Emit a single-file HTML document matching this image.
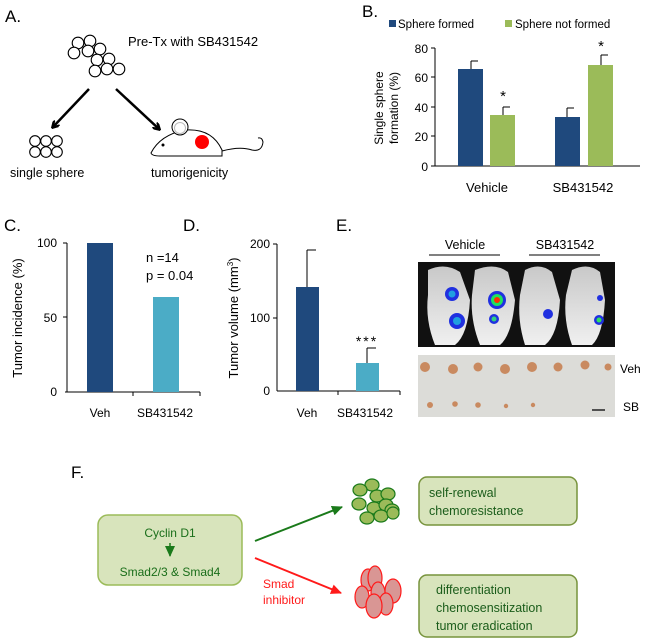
<!DOCTYPE html>
<html><head><meta charset="utf-8"><style>
html,body{margin:0;padding:0;background:#fff}
svg{display:block}
text{font-family:"Liberation Sans",sans-serif}
</style></head><body>
<svg width="650" height="644" viewBox="0 0 650 644" xmlns="http://www.w3.org/2000/svg">
<defs>
<marker id="ak" markerWidth="8" markerHeight="8" refX="6" refY="4" orient="auto" markerUnits="userSpaceOnUse"><path d="M0,0 L7,4 L0,8" fill="none" stroke="#000" stroke-width="2.5"/></marker>
<marker id="ag" markerWidth="12" markerHeight="10" refX="10" refY="5" orient="auto" markerUnits="userSpaceOnUse"><path d="M0,0 L11,5 L0,10 Z" fill="#1a7a1a"/></marker>
<marker id="ar" markerWidth="12" markerHeight="10" refX="10" refY="5" orient="auto" markerUnits="userSpaceOnUse"><path d="M0,0 L11,5 L0,10 Z" fill="#ff1a1a"/></marker>
<linearGradient id="mz" x1="0" x2="0" y1="0" y2="1"><stop offset="0" stop-color="#c8c8c8"/><stop offset="1" stop-color="#f0f0f0"/></linearGradient>
</defs>

<!-- A -->
<text x="5" y="22" font-size="17">A.</text>
<g fill="#fff" stroke="#000" stroke-width="1.1">
<circle cx="78" cy="43" r="5.8"/><circle cx="90" cy="41" r="5.8"/><circle cx="74" cy="53" r="5.8"/><circle cx="88" cy="51" r="5.8"/><circle cx="100" cy="49" r="5.8"/><circle cx="97" cy="60" r="5.8"/><circle cx="109" cy="59" r="5.8"/><circle cx="95" cy="71" r="5.8"/><circle cx="107" cy="69" r="5.8"/><circle cx="119" cy="69" r="5.8"/>
<circle cx="35" cy="141" r="5.3"/><circle cx="46" cy="141" r="5.3"/><circle cx="57" cy="141" r="5.3"/><circle cx="35" cy="152" r="5.3"/><circle cx="46" cy="152" r="5.3"/><circle cx="57" cy="152" r="5.3"/>
</g>
<text x="128" y="46" font-size="13">Pre-Tx with  SB431542</text>
<line x1="89" y1="89" x2="53" y2="127" stroke="#000" stroke-width="2.5" marker-end="url(#ak)"/>
<line x1="116" y1="89" x2="159" y2="129" stroke="#000" stroke-width="2.5" marker-end="url(#ak)"/>
<g fill="none" stroke="#000" stroke-width="1">
<path d="M151,153 Q160,135 185,130 Q212,128 222,150 L222,156 L160,156 Q152,156 151,153 Z" fill="#fff"/>
<circle cx="180" cy="127" r="8" fill="#fff"/><circle cx="180" cy="128" r="5.5" stroke="#bbb"/>
<path d="M222,151 Q240,146 252,150 Q262,152 263,142 Q262,137 258,138"/>
</g>
<circle cx="163" cy="145" r="1.5" fill="#000"/>
<circle cx="202" cy="142" r="7" fill="#f00"/>
<text x="10" y="177" font-size="12.5">single sphere</text>
<text x="151" y="177" font-size="12.5">tumorigenicity</text>

<!-- B -->
<text x="362" y="17" font-size="17">B.</text>
<rect x="389" y="20" width="7" height="7" fill="#1f497d"/><text x="398" y="28" font-size="11.5">Sphere formed</text>
<rect x="505" y="20" width="7" height="7" fill="#9bbb59"/><text x="515" y="28" font-size="11.5">Sphere not formed</text>
<g font-size="12" text-anchor="end">
<text x="428" y="53">80</text><text x="428" y="82">60</text><text x="428" y="112">40</text><text x="428" y="141">20</text><text x="428" y="171">0</text>
</g>
<g stroke="#000" stroke-width="1">
<line x1="435" y1="48" x2="435" y2="166"/><line x1="435" y1="166" x2="640" y2="166"/>
<line x1="431" y1="48" x2="435" y2="48"/><line x1="431" y1="77" x2="435" y2="77"/><line x1="431" y1="107" x2="435" y2="107"/><line x1="431" y1="136" x2="435" y2="136"/><line x1="431" y1="166" x2="435" y2="166"/>
<line x1="471" y1="69" x2="471" y2="61"/><line x1="471" y1="61" x2="478" y2="61"/>
<line x1="503" y1="115" x2="503" y2="107"/><line x1="503" y1="107" x2="510" y2="107"/>
<line x1="567" y1="117" x2="567" y2="108"/><line x1="567" y1="108" x2="574" y2="108"/>
<line x1="601" y1="65" x2="601" y2="55"/><line x1="601" y1="55" x2="608" y2="55"/>
</g>
<rect x="458" y="69" width="25" height="97" fill="#1f497d"/>
<rect x="490" y="115" width="25" height="51" fill="#9bbb59"/>
<rect x="555" y="117" width="25" height="49" fill="#1f497d"/>
<rect x="588" y="65" width="25" height="101" fill="#9bbb59"/>
<text x="503" y="101" font-size="15" text-anchor="middle">*</text>
<text x="601" y="51" font-size="15" text-anchor="middle">*</text>
<text x="487" y="192" font-size="13" text-anchor="middle">Vehicle</text>
<text x="583" y="192" font-size="13" text-anchor="middle">SB431542</text>
<text transform="translate(383,108) rotate(-90)" font-size="12" text-anchor="middle">Single sphere</text>
<text transform="translate(398,108) rotate(-90)" font-size="12" text-anchor="middle">formation (%)</text>

<!-- C -->
<text x="4" y="231" font-size="17">C.</text>
<g font-size="12" text-anchor="end"><text x="57" y="247">100</text><text x="57" y="322">50</text><text x="57" y="396">0</text></g>
<g stroke="#000" stroke-width="1">
<line x1="67" y1="243" x2="67" y2="392"/><line x1="65" y1="392" x2="200" y2="392"/>
<line x1="63" y1="243" x2="67" y2="243"/><line x1="63" y1="317" x2="67" y2="317"/>
<line x1="133" y1="392" x2="133" y2="396"/><line x1="200" y1="392" x2="200" y2="396"/>
</g>
<rect x="87" y="243" width="26" height="149" fill="#1f497d"/>
<rect x="153" y="297" width="26" height="95" fill="#4bacc6"/>
<text x="146" y="262" font-size="13">n =14</text>
<text x="146" y="280" font-size="13">p = 0.04</text>
<text x="100" y="417" font-size="12" text-anchor="middle">Veh</text>
<text x="165" y="417" font-size="12" text-anchor="middle">SB431542</text>
<text transform="translate(22,318) rotate(-90)" font-size="13" text-anchor="middle">Tumor incidence (%)</text>

<!-- D -->
<text x="183" y="231" font-size="17">D.</text>
<g font-size="12" text-anchor="end"><text x="270" y="248">200</text><text x="270" y="322">100</text><text x="270" y="395">0</text></g>
<g stroke="#000" stroke-width="1">
<line x1="277" y1="244" x2="277" y2="391"/><line x1="277" y1="391" x2="400" y2="391"/>
<line x1="273" y1="244" x2="277" y2="244"/><line x1="273" y1="318" x2="277" y2="318"/>
<line x1="338" y1="391" x2="338" y2="395"/><line x1="400" y1="391" x2="400" y2="395"/>
<line x1="307" y1="287" x2="307" y2="250"/><line x1="307" y1="250" x2="316" y2="250"/>
<line x1="367" y1="363" x2="367" y2="348"/><line x1="367" y1="348" x2="376" y2="348"/>
</g>
<rect x="296" y="287" width="23" height="104" fill="#1f497d"/>
<rect x="356" y="363" width="23" height="28" fill="#4bacc6"/>
<text x="367" y="346" font-size="14" text-anchor="middle" letter-spacing="2">***</text>
<text x="307" y="417" font-size="12" text-anchor="middle">Veh</text>
<text x="365" y="417" font-size="12" text-anchor="middle">SB431542</text>
<text transform="translate(238,318) rotate(-90)" font-size="13" text-anchor="middle">Tumor volume (mm<tspan font-size="8" dy="-5">3</tspan><tspan dy="5">)</tspan></text>

<!-- E -->
<text x="336" y="231" font-size="17">E.</text>
<text x="465" y="249" font-size="12.5" text-anchor="middle">Vehicle</text>
<text x="565" y="249" font-size="12.5" text-anchor="middle">SB431542</text>
<line x1="429" y1="255" x2="500" y2="255" stroke="#000"/><line x1="529" y1="255" x2="600" y2="255" stroke="#000"/>
<rect x="418" y="262" width="197" height="85" fill="#111"/>
<g fill="url(#mz)">
<path d="M428,270 Q445,262 460,272 L470,300 Q468,335 455,345 L435,345 Q425,320 428,295 Z"/>
<path d="M475,270 Q495,262 508,272 L515,300 Q512,335 500,345 L480,345 Q470,320 472,295 Z"/>
<path d="M525,270 Q540,262 552,272 L560,300 Q558,335 545,345 L525,345 Q517,320 520,295 Z"/>
<path d="M572,270 Q588,262 600,272 L605,300 Q603,335 592,345 L572,345 Q563,320 566,295 Z"/>
</g>
<circle cx="452" cy="294" r="7" fill="#2030e0"/><circle cx="452" cy="294" r="3.5" fill="#20a0e0"/>
<circle cx="457" cy="321" r="8" fill="#2030e0"/><circle cx="457" cy="321" r="4" fill="#20a0e0"/>
<circle cx="497" cy="300" r="9" fill="#2030e0"/><circle cx="497" cy="300" r="6" fill="#20e060"/><circle cx="497" cy="300" r="3" fill="#ff3000"/>
<circle cx="494" cy="319" r="5" fill="#2030e0"/><circle cx="494" cy="319" r="2.5" fill="#30d080"/>
<circle cx="548" cy="314" r="5" fill="#2030e0"/>
<circle cx="600" cy="298" r="3" fill="#2030e0"/>
<circle cx="599" cy="320" r="5" fill="#2030e0"/><circle cx="599" cy="320" r="2.5" fill="#30e060"/>
<rect x="418" y="355" width="197" height="62" fill="#dcdcd8"/>
<g fill="#c98a60">
<circle cx="425" cy="367" r="5"/><circle cx="453" cy="369" r="5"/><circle cx="478" cy="367" r="4.5"/><circle cx="505" cy="369" r="5"/><circle cx="532" cy="367" r="5"/><circle cx="558" cy="367" r="4.5"/><circle cx="585" cy="365" r="4.5"/><circle cx="608" cy="367" r="3.5"/>
<circle cx="430" cy="405" r="3"/><circle cx="455" cy="404" r="2.8"/><circle cx="478" cy="405" r="2.8"/><circle cx="506" cy="406" r="2.2"/><circle cx="533" cy="405" r="2.2"/>
</g>
<line x1="592" y1="410" x2="605" y2="410" stroke="#222" stroke-width="1.5"/>
<text x="620" y="373" font-size="12">Veh</text>
<text x="623" y="411" font-size="12">SB</text>

<!-- F -->
<text x="71" y="478" font-size="17">F.</text>
<rect x="98" y="515" width="144" height="70" rx="10" fill="#d8e4bc" stroke="#9bbb59" stroke-width="1.5"/>
<text x="170" y="537" font-size="12" fill="#1a6e1a" text-anchor="middle">Cyclin D1</text>
<line x1="170" y1="543" x2="170" y2="556" stroke="#1a7a1a" stroke-width="1.5" marker-end="url(#ag)"/>
<text x="170" y="576" font-size="12" fill="#1a6e1a" text-anchor="middle">Smad2/3 &amp; Smad4</text>
<line x1="255" y1="541" x2="342" y2="507" stroke="#1a7a1a" stroke-width="2" marker-end="url(#ag)"/>
<line x1="255" y1="558" x2="341" y2="593" stroke="#ff1a1a" stroke-width="2" marker-end="url(#ar)"/>
<text x="263" y="588" font-size="12" fill="#ff1a1a">Smad</text>
<text x="263" y="604" font-size="12" fill="#ff1a1a">inhibitor</text>
<g fill="#9bbb59" stroke="#1a7a1a" stroke-width="1.2">
<ellipse cx="372" cy="485" rx="7" ry="6"/><ellipse cx="360" cy="490" rx="7" ry="6"/><ellipse cx="377" cy="496" rx="7" ry="6"/><ellipse cx="388" cy="494" rx="7" ry="6"/><ellipse cx="359" cy="504" rx="7" ry="6"/><ellipse cx="374" cy="508" rx="7" ry="6"/><ellipse cx="386" cy="505" rx="7" ry="6"/><ellipse cx="392" cy="510" rx="7" ry="6"/><ellipse cx="367" cy="518" rx="7" ry="6"/><ellipse cx="381" cy="516" rx="7" ry="6"/><ellipse cx="393" cy="513" rx="6" ry="6"/>
</g>
<g fill="#d99694" stroke="#ff1a1a" stroke-width="1.2">
<ellipse cx="368" cy="580" rx="7" ry="11"/><ellipse cx="375" cy="578" rx="7" ry="12"/><ellipse cx="393" cy="591" rx="8" ry="12"/><ellipse cx="362" cy="597" rx="7" ry="11"/><ellipse cx="378" cy="593" rx="7" ry="11"/><ellipse cx="386" cy="604" rx="7" ry="11"/><ellipse cx="374" cy="606" rx="8" ry="12"/>
</g>
<rect x="419" y="477" width="158" height="48" rx="8" fill="#d8e4bc" stroke="#77933c" stroke-width="1.5"/>
<text x="429" y="497" font-size="12.5" fill="#1a5c1a">self-renewal</text>
<text x="429" y="515" font-size="12.5" fill="#1a5c1a">chemoresistance</text>
<rect x="419" y="575" width="158" height="62" rx="8" fill="#d8e4bc" stroke="#77933c" stroke-width="1.5"/>
<text x="436" y="594" font-size="12.5" fill="#1a5c1a">differentiation</text>
<text x="436" y="612" font-size="12.5" fill="#1a5c1a">chemosensitization</text>
<text x="436" y="630" font-size="12.5" fill="#1a5c1a">tumor eradication</text>
</svg>
</body></html>
